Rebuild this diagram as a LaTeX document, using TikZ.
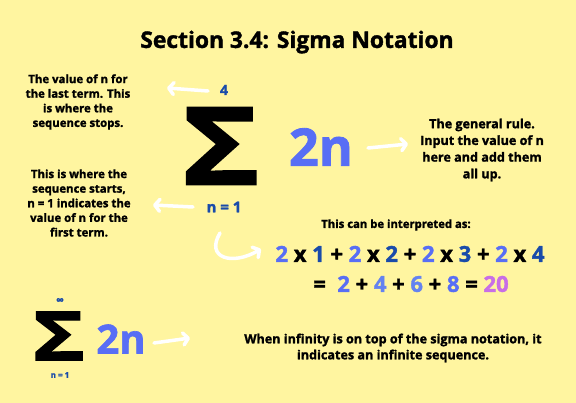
\documentclass[tikz,border=0pt]{standalone}
\usepackage{fontspec}
\usepackage{graphicx}
\setmainfont{Open Sans}[BoldFeatures={FakeBold=1.6}]
\usetikzlibrary{arrows.meta}
\definecolor{bg}{RGB}{255,245,160}
\definecolor{lblue}{RGB}{88,110,245}
\definecolor{mblue}{RGB}{100,130,240}
\definecolor{dblue}{RGB}{25,75,170}
\definecolor{purp}{RGB}{200,110,230}
\tikzset{
  note/.style={font=\bfseries\fontsize{11.4}{14.6}\selectfont, align=center, text=black, inner sep=0pt},
  warrow/.style={draw=white, line width=3.5pt, line cap=round, line join=round,
    -{Straight Barb[length=5pt,width=12pt,round]}},
  lim/.style={font=\bfseries\fontsize{#1}{#1}\selectfont, text=dblue, inner sep=0pt},
  sig/.style={font=\bfseries\fontsize{#1}{#1}\selectfont, text=black, inner sep=0pt},
  rule/.style={font=\bfseries\fontsize{#1}{#1}\selectfont, text=lblue, inner sep=0pt},
  eq/.style={font=\bfseries\fontsize{22}{22}\selectfont, text=black, inner sep=0pt}
}
\begin{document}
\begin{tikzpicture}[x=1pt,y=-1pt]
\useasboundingbox (0,0) rectangle (576,403);
\fill[bg] (0,0) rectangle (576,403);

\node[font=\bfseries\fontsize{22.8}{26}\selectfont, inner sep=0pt] (title) at (297,42) {Section 3.4: Sigma Notation};

% main sigma
\node[sig=108] (S) at (221,146) {\scalebox{1.22}[1]{Σ}};
\node[lim=14] (top) at (224,90) {4};
\node[lim=15] (bot) at (224,207) {n = 1};
\node[rule=52] (rule) at (321,147) {2n};

% notes
\node[note] (n1) at (78,102) {The value of n for\\the last term. This\\is where the\\sequence stops.};
\node[note] (n2) at (79,203) {This is where the\\sequence starts,\\n = 1 indicates the\\value of n for the\\first term.};
\node[note, font=\bfseries\fontsize{12.6}{16.7}\selectfont] (n3) at (482,150) {The general rule.\\Input the value of n\\here and add them\\all up.};

\coordinate (a1s) at (208,91); \coordinate (a1e) at (167,88);
\draw[warrow] (a1s) -- (a1e);
\coordinate (a2s) at (193,207); \coordinate (a2e) at (153,205);
\draw[warrow] (a2s) -- (a2e);
\coordinate (a3s) at (368,148); \coordinate (a3e) at (408,144);
\draw[warrow] (a3s) -- (a3e);

% interpretation
\node[note, font=\bfseries\fontsize{11.3}{14}\selectfont] (interp) at (396,225) {This can be interpreted as:};
\coordinate (c1) at (220,233); \coordinate (c2) at (261,249);
\draw[warrow] (c1) .. controls (205,258) and (232,266) .. (c2);

\node[eq] (eq1) at (410,254) {{\color{lblue}2} x {\color{dblue}1} + {\color{lblue}2} x {\color{dblue}2} + {\color{lblue}2} x {\color{dblue}3} + {\color{lblue}2} x {\color{dblue}4}};
\node[eq] (eq2) at (411,284) {= \ {\color{lblue}2} + {\color{mblue}4} + {\color{mblue}6} + {\color{lblue}8} = {\color{purp}20}};

% bottom sigma
\node[sig=68] (S2) at (59,336) {\scalebox{1.3}[1]{Σ}};
\node[lim=11] (top2) at (60,301) {∞};
\node[lim=8] (bot2) at (60,375) {n = 1};
\node[rule=40] (rule2) at (121,339) {2n};
\coordinate (a4s) at (154,343); \coordinate (a4e) at (190,338);
\draw[warrow] (a4s) -- (a4e);
\node[note, font=\bfseries\fontsize{12.6}{16}\selectfont] (n4) at (393,348) {When infinity is on top of the sigma notation, it\\indicates an infinite sequence.};
\end{tikzpicture}
\end{document}
